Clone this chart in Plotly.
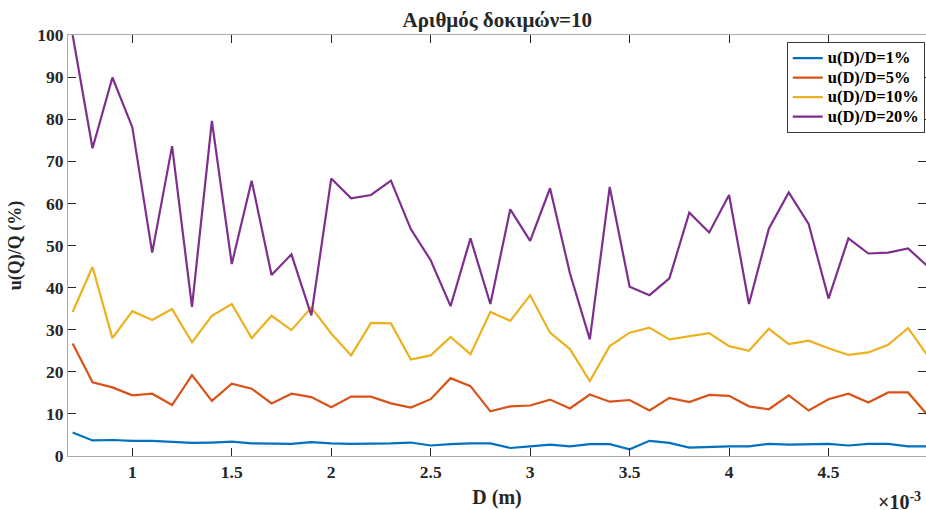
import plotly.graph_objects as go

# Pipe diameter D in units of 1e-3 m (0.7 ... 5.0 mm, step 0.1 mm)
D_mm = [round(0.7 + 0.1 * i, 1) for i in range(44)]
D = [d * 1e-3 for d in D_mm]

u1 = [5.6, 3.7, 3.8, 3.6, 3.6, 3.3, 3.1, 3.2, 3.4, 3.0, 3.0, 2.9, 3.3, 3.0,
      2.9, 2.9, 3.0, 3.2, 2.5, 2.8, 3.0, 3.0, 1.9, 2.3, 2.7, 2.3, 2.8, 2.8,
      1.6, 3.6, 3.1, 2.0, 2.2, 2.3, 2.3, 2.9, 2.7, 2.8, 2.9, 2.5, 2.9, 2.9,
      2.3, 2.3]
u5 = [26.7, 17.5, 16.3, 14.4, 14.8, 12.1, 19.2, 13.1, 17.2, 16.0, 12.5, 14.8,
      14.0, 11.6, 14.1, 14.1, 12.5, 11.5, 13.5, 18.5, 16.6, 10.6, 11.8, 12.0,
      13.4, 11.3, 14.6, 12.9, 13.3, 10.8, 13.8, 12.8, 14.5, 14.3, 11.8, 11.1,
      14.4, 10.8, 13.5, 14.8, 12.7, 15.1, 15.1, 9.6]
u10 = [34.2, 44.9, 28.0, 34.4, 32.3, 34.9, 27.0, 33.3, 36.1, 28.0, 33.3, 29.9,
       35.3, 29.1, 23.9, 31.6, 31.5, 22.9, 23.9, 28.3, 24.2, 34.2, 32.1, 38.2,
       29.3, 25.4, 17.8, 26.1, 29.3, 30.5, 27.7, 28.4, 29.2, 26.1, 25.0, 30.2,
       26.6, 27.4, 25.6, 24.0, 24.6, 26.4, 30.4, 23.7]
u20 = [100.0, 73.1, 89.9, 78.1, 48.3, 73.6, 35.4, 79.6, 45.6, 65.4, 43.0, 47.9,
       33.4, 65.9, 61.2, 62.0, 65.4, 53.9, 46.5, 35.6, 51.7, 36.1, 58.6, 51.1,
       63.6, 43.4, 27.7, 63.9, 40.2, 38.2, 42.2, 57.8, 53.1, 62.0, 36.1, 54.0,
       62.6, 55.1, 37.4, 51.7, 48.1, 48.3, 49.3, 45.0]

series_names = ["u(D)/D=1%", "u(D)/D=5%", "u(D)/D=10%", "u(D)/D=20%"]
series_values = [u1, u5, u10, u20]
series_colors = ["#0072BD", "#D95319", "#EDB120", "#7E2F8E"]

x_tick_mm = [1, 1.5, 2, 2.5, 3, 3.5, 4, 4.5]
x_tick_text = ["1", "1.5", "2", "2.5", "3", "3.5", "4", "4.5"]
y_ticks = [0, 10, 20, 30, 40, 50, 60, 70, 80, 90, 100]

FONT = "Liberation Serif"
TXT = "#262626"
AXLINE = "#ababab"

fig = go.Figure()
for name, vals, col in zip(series_names, series_values, series_colors):
    # legend rows are spaced by the (smaller) legend font; the label itself is larger
    label = '<span style="font-size:16.5px"><b>%s</b></span>' % name
    fig.add_trace(go.Scatter(x=D, y=vals, mode="lines", name=label,
                             line=dict(color=col, width=2.2)))

# helper trace so the right-hand tick axis is rendered
fig.add_trace(go.Scatter(x=[None], y=[None], yaxis="y2", showlegend=False,
                         hoverinfo="skip"))

fig.update_layout(
    width=926, height=510,
    margin=dict(l=68, r=0, t=35, b=54),
    paper_bgcolor="white", plot_bgcolor="white",
    font=dict(family=FONT, color=TXT),
    title=dict(text="<b>Αριθμός δοκιμών=10</b>", x=0.537, xanchor="center",
               y=0.962, yanchor="middle", yref="container",
               font=dict(size=21, family=FONT, color=TXT)),
    xaxis=dict(range=[0.6767e-3, 4.99e-3],
               tickvals=[t * 1e-3 for t in x_tick_mm],
               ticktext=["<b>%s</b>" % t for t in x_tick_text],
               ticks="inside", ticklen=8, tickwidth=1, tickcolor=TXT,
               showline=True, linecolor=AXLINE, linewidth=1, mirror="ticks",
               showgrid=False, zeroline=False,
               tickfont=dict(size=17.5, family=FONT, color=TXT),
               title=dict(text="<b>D (m)</b>", standoff=8,
                          font=dict(size=20, family=FONT, color=TXT))),
    yaxis=dict(range=[0, 100], tickvals=y_ticks,
               ticktext=["<b>%d</b>" % v for v in y_ticks],
               ticks="inside", ticklen=8, tickwidth=1, tickcolor=TXT,
               showline=True, linecolor=AXLINE, linewidth=1,
               showgrid=False, zeroline=False,
               tickfont=dict(size=17.5, family=FONT, color=TXT),
               title=dict(text="<b>u(Q)/Q (%)</b>", standoff=10,
                          font=dict(size=18, family=FONT, color=TXT))),
    yaxis2=dict(range=[0, 100], tickvals=y_ticks, overlaying="y", side="right",
                ticks="inside", ticklen=8, tickwidth=1, tickcolor=TXT,
                showticklabels=False, showline=False, showgrid=False,
                zeroline=False),
    legend=dict(x=0.8377, y=0.9827, xanchor="left", yanchor="top",
                bgcolor="white", bordercolor="#3a3a3a", borderwidth=1,
                font=dict(size=12.7, family=FONT, color="black"),
                tracegroupgap=0, itemwidth=30),
    annotations=[dict(text="<b>×10<sup>-3</sup></b>", xref="paper", yref="paper",
                      x=(876 - 68) / 858, y=-0.073, xanchor="left", yanchor="top",
                      showarrow=False, font=dict(size=20, family=FONT, color=TXT))],
)

fig.write_html("out.html")
